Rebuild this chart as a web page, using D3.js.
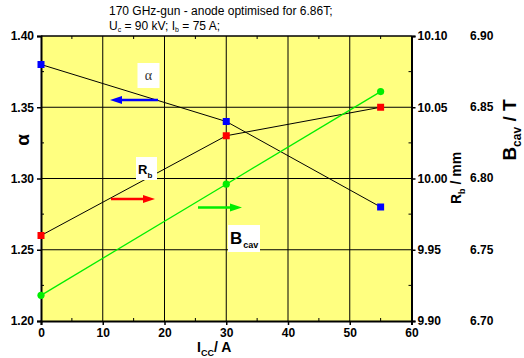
<!DOCTYPE html>
<html><head><meta charset="utf-8">
<script src="https://cdn.jsdelivr.net/npm/d3@7"></script>
<style>body{margin:0;background:#fff}svg{display:block}text{font-family:"Liberation Sans",Arial,sans-serif}</style>
</head><body><svg id="c" width="524" height="358"></svg>
<script>
const icc = [0, 30, 55];
const alphaVals = [1.38, 1.34, 1.28];
const rbVals = [9.96, 10.03, 10.05];
const bcavVals = [6.718, 6.796, 6.861];
const xTicks = [0, 10, 20, 30, 40, 50, 60];
const alphaTicks = [1.20, 1.25, 1.30, 1.35, 1.40];
const rbTicks = [9.90, 9.95, 10.00, 10.05, 10.10];
const bTicks = [6.70, 6.75, 6.80, 6.85, 6.90];

const svg = d3.select("#c");
const L = 41, R = 411.5, T = 36, B = 321;
const x = d3.scaleLinear().domain([0, 60]).range([L, R]);
const yA = d3.scaleLinear().domain([1.20, 1.40]).range([B, T]);
const yR = d3.scaleLinear().domain([9.90, 10.10]).range([B, T]);
const yB = d3.scaleLinear().domain([6.70, 6.90]).range([B, T]);

svg.append("rect").attr("x", L).attr("y", T).attr("width", R - L).attr("height", B - T).attr("fill", "#ffff80");

// grid
const g = svg.append("g").attr("stroke", "#000").attr("stroke-width", 1);
[10, 20, 30, 40, 50].forEach(v => g.append("line").attr("x1", x(v)).attr("x2", x(v)).attr("y1", T).attr("y2", B));
[1.25, 1.30, 1.35].forEach(v => g.append("line").attr("x1", L).attr("x2", R).attr("y1", yA(v)).attr("y2", yA(v)));

// minor ticks
const mt = svg.append("g").attr("stroke", "#000").attr("stroke-width", 1);
[5, 15, 25, 35, 45, 55].forEach(v => {
  mt.append("line").attr("x1", x(v)).attr("x2", x(v)).attr("y1", B).attr("y2", B - 3);
  mt.append("line").attr("x1", x(v)).attr("x2", x(v)).attr("y1", T).attr("y2", T + 3);
});
[1.225, 1.275, 1.325, 1.375].forEach(v => {
  mt.append("line").attr("x1", L).attr("x2", L + 3).attr("y1", yA(v)).attr("y2", yA(v));
  mt.append("line").attr("x1", R).attr("x2", R - 3).attr("y1", yA(v)).attr("y2", yA(v));
});

// axes
const fmt2 = d3.format(".2f");
const axL = d3.axisLeft(yA).tickValues(alphaTicks).tickFormat(fmt2).tickSize(4).tickPadding(3);
const axB = d3.axisBottom(x).tickValues(xTicks).tickFormat(d3.format("d")).tickSize(4).tickPadding(3);
const axR = d3.axisRight(yR).tickValues(rbTicks).tickFormat(fmt2).tickSize(4).tickPadding(2);
function style(sel) {
  sel.select(".domain").attr("stroke-width", 2);
  sel.selectAll("text").attr("font-size", 12).attr("font-weight", "bold").attr("fill", "#000");
  sel.selectAll(".tick line").attr("stroke-width", 1.5);
}
svg.append("g").attr("transform", `translate(${L},0)`).call(axL).call(style);
svg.append("g").attr("transform", `translate(0,${B})`).call(axB).call(style);
svg.append("g").attr("transform", `translate(${R},0)`).call(axR).call(style);
svg.append("line").attr("x1", L).attr("x2", R).attr("y1", T).attr("y2", T).attr("stroke", "#000").attr("stroke-width", 1.5);

// Bcav tick labels (no axis line)
svg.append("g").selectAll("text").data(bTicks).join("text")
  .attr("x", 470).attr("y", d => yB(d)).attr("dy", "0.32em")
  .attr("font-size", 12).attr("font-weight", "bold").text(d => fmt2(d));

// series
function series(vals, sc, color, shape) {
  const line = d3.line().x((d, i) => x(icc[i])).y(d => sc(d));
  svg.append("path").datum(vals).attr("d", line).attr("fill", "none")
    .attr("stroke", color === "#00ee00" ? "#00ee00" : "#000").attr("stroke-width", color === "#00ee00" ? 1.3 : 1);
  vals.forEach((v, i) => {
    if (shape === "sq") svg.append("rect").attr("x", x(icc[i]) - 3.5).attr("y", sc(v) - 3.5).attr("width", 7).attr("height", 7).attr("fill", color);
    else svg.append("circle").attr("cx", x(icc[i])).attr("cy", sc(v)).attr("r", 3.6).attr("fill", color);
  });
}
series(alphaVals, yA, "#0000ff", "sq");
series(rbVals, yR, "#ff0000", "sq");
series(bcavVals, yB, "#00ee00", "ci");

// arrows
function arrow(x1, x2, y, color) {
  const dir = Math.sign(x2 - x1);
  svg.append("line").attr("x1", x1).attr("x2", x2 - dir * 8).attr("y1", y).attr("y2", y).attr("stroke", color).attr("stroke-width", 2.5);
  svg.append("path").attr("d", `M${x2},${y} L${x2 - dir * 12},${y - 4} L${x2 - dir * 12},${y + 4} Z`).attr("fill", color);
}
arrow(158, 110, 100, "#0000ff");
arrow(111, 155, 199, "#ff0000");
arrow(198, 242, 207.5, "#00ee00");

// annotation boxes
svg.append("rect").attr("x", 137.5).attr("y", 63).attr("width", 22).attr("height", 25).attr("fill", "#fff");
svg.append("text").attr("x", 148.5).attr("y", 80).attr("text-anchor", "middle").attr("font-family", "Liberation Serif, serif").attr("font-size", 14).attr("fill", "#333").style("font-family", "Liberation Serif, serif").text("α");
svg.append("rect").attr("x", 136).attr("y", 157).attr("width", 21).attr("height", 23).attr("fill", "#fff");
const rbT = svg.append("text").attr("x", 138).attr("y", 174).attr("font-size", 13).attr("font-weight", "bold");
rbT.append("tspan").text("R");
rbT.append("tspan").attr("font-size", 8).attr("dy", 4).text("b");
svg.append("rect").attr("x", 228).attr("y", 225).attr("width", 32).attr("height", 27).attr("fill", "#fff");
const bT = svg.append("text").attr("x", 230).attr("y", 244).attr("font-size", 17).attr("font-weight", "bold");
bT.append("tspan").text("B");
bT.append("tspan").attr("font-size", 9).attr("dy", 4).attr("dx", 1).text("cav");

// titles
svg.append("text").attr("x", 109).attr("y", 15).attr("font-size", 12).text("170 GHz-gun - anode optimised for 6.86T;");
const t2 = svg.append("text").attr("x", 109).attr("y", 30).attr("font-size", 12);
t2.append("tspan").text("U");
t2.append("tspan").attr("font-size", 7).attr("dy", 2).text("c");
t2.append("tspan").attr("dy", -2).text(" = 90 kV; I");
t2.append("tspan").attr("font-size", 7).attr("dy", 2).text("b");
t2.append("tspan").attr("dy", -2).text(" = 75 A;");

// axis titles
svg.append("text").attr("transform", "translate(29,140) rotate(-90)").attr("text-anchor", "middle")
  .attr("font-size", 19).attr("font-weight", "bold").text("α");
const xl = svg.append("text").attr("x", 197).attr("y", 352).attr("font-size", 14).attr("font-weight", "bold");
xl.append("tspan").text("I");
xl.append("tspan").attr("font-size", 9).attr("dy", 4).text("CC");
xl.append("tspan").attr("dy", -4).text("/ A");
const rl = svg.append("text").attr("transform", "translate(461,178) rotate(-90)").attr("text-anchor", "middle").attr("font-size", 14).attr("font-weight", "bold");
rl.append("tspan").text("R");
rl.append("tspan").attr("font-size", 9).attr("dy", 4).text("b");
rl.append("tspan").attr("dy", -4).text(" / mm");
const bl = svg.append("text").attr("transform", "translate(516,130) rotate(-90)").attr("text-anchor", "middle").attr("font-size", 19).attr("font-weight", "bold");
bl.append("tspan").text("B");
bl.append("tspan").attr("font-size", 12).attr("dy", 5).text("cav");
bl.append("tspan").attr("dy", -5).text(" / T");
</script></body></html>
